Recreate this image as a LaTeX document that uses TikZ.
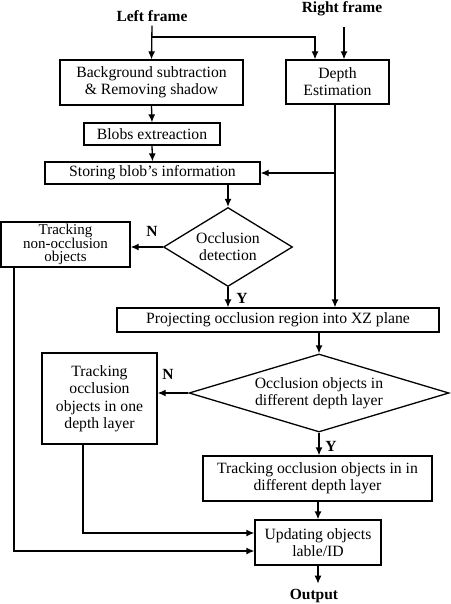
\documentclass[tikz,border=0pt]{standalone}
\usepackage{fontspec}
\setmainfont{Liberation Serif}
\usetikzlibrary{arrows.meta,shapes.geometric,calc}
\begin{document}
\begin{tikzpicture}[x=1pt,y=-1pt,
  line width=1.3pt,
  every node/.style={font=\fontsize{15.7}{17}\selectfont},
  box/.style={draw,rectangle,inner sep=0pt,align=center},
  dia/.style={draw,diamond,inner sep=0pt,align=center},
  lbl/.style={font=\fontsize{15.5}{17}\selectfont\bfseries},
  arr/.style={-{Latex[length=8pt,width=7pt]}}]
\useasboundingbox (0,0) rectangle (450,604);
\node[lbl] (lf) at (152,16) {Left frame};
\node[lbl] (rf) at (342,9) {Right frame};
\node[box,minimum width=183pt,minimum height=45pt] (bg) at (151.5,82.5) {Background subtraction\\\& Removing shadow};
\node[box,minimum width=103pt,minimum height=44pt] (depth) at (337.5,82) {Depth\\Estimation};
\node[box,minimum width=136pt,minimum height=22pt] (blobs) at (152,134) {Blobs extreaction};
\node[box,minimum width=215pt,minimum height=22pt] (store) at (152.5,173) {Storing blob’s information};
\node[dia,aspect=1.6,minimum width=129pt,minimum height=79pt] (d1) at (228,247) {Occlusion\\detection};
\node[box,minimum width=129pt,minimum height=45pt,font=\fontsize{15}{13.8}\selectfont] (nonocc) at (65.5,244.5) {Tracking\\non-occlusion\\objects};
\node[box,minimum width=322pt,minimum height=24pt] (proj) at (278,320) {Projecting occlusion region into XZ plane};
\node[dia,aspect=3.35,minimum width=260pt,minimum height=78pt] (d2) at (319,393) {Occlusion objects in\\different depth layer};
\node[box,minimum width=115pt,minimum height=91pt,font=\fontsize{15.7}{17.5}\selectfont] (occ1) at (99.5,398.5) {Tracking\\occlusion\\objects in one\\depth layer};
\node[box,minimum width=229pt,minimum height=45pt] (occ2) at (317.5,478.5) {Tracking occlusion objects in in\\different depth layer};
\node[box,minimum width=126pt,minimum height=45pt] (upd) at (318,542.5) {Updating objects\\lable/ID};
\node[lbl] (out) at (314,596) {Output};
% labels
\node[lbl] (n1) at (152,231) {N};
\node[lbl] (y1) at (242,298) {Y};
\node[lbl] (n2) at (168,374) {N};
\node[lbl] (y2) at (331,446) {Y};
% connectors
\coordinate (br) at (152,37);
\coordinate (rx) at (344,27);
\coordinate (dx) at (335,104);
\coordinate (j1) at (83,533);
\coordinate (j2) at (14,551);
\draw[arr] (lf.south) -- (bg.north);
\draw[arr] (br) -| ($(depth.north)+(-22.5,0)$);
\draw[arr] (rx) -- (rx |- depth.north);
\draw[arr] (bg.south) -- (blobs.north);
\draw[arr] (blobs.south) -- (store.north);
\draw[arr] (dx) -- (dx |- proj.north);
\draw[arr] (dx |- store.east) -- (store.east);
\draw[arr] (store.south -| d1.north) -- (d1.north);
\draw[arr] (d1.west) -- (d1.west -| nonocc.east);
\draw[arr] (d1.south) -- (d1.south |- proj.north);
\draw[arr] (proj.south -| d2.north) -- (d2.north);
\draw[arr] (d2.west) -- (d2.west -| occ1.east);
\draw[arr] (d2.south) -- (d2.south |- occ2.north);
\draw[arr] (occ2.south -| upd.north) -- (upd.north);
\draw[arr] (j1 |- occ1.south) -- (j1) -- (j1 -| upd.west);
\draw[arr] (j2 |- nonocc.south) -- (j2) -- (j2 -| upd.west);
\draw[arr] (upd.south) -- ($(upd.south)+(0,18)$);
\end{tikzpicture}
\end{document}
